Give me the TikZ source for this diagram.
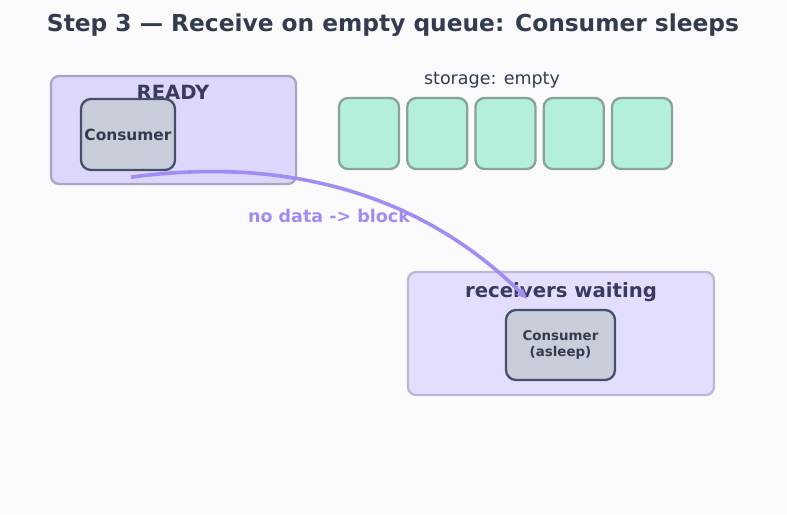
\documentclass[tikz,border=0pt]{standalone}
\usepackage{fontspec}
\setmainfont{DejaVu Sans}
\usepackage{tikz}
\usetikzlibrary{arrows.meta,calc,positioning}

\definecolor{bgcol}{HTML}{FBFBFE}
\definecolor{inkcol}{HTML}{333B4F}
\definecolor{readyfill}{HTML}{DDD6FD}
\definecolor{readyline}{HTML}{ABA4C5}
\definecolor{readyink}{HTML}{383B5E}
\definecolor{procfill}{HTML}{C9CDD9}
\definecolor{procline}{HTML}{475069}
\definecolor{slotfill}{HTML}{B3EFDA}
\definecolor{slotline}{HTML}{8AA29B}
\definecolor{waitfill}{HTML}{E3DEFD}
\definecolor{waitline}{HTML}{BDB8D3}
\definecolor{flowcol}{HTML}{A18CF6}

\tikzset{
  statebox/.style={draw, rounded corners=8pt, line width=2.3pt, inner sep=0pt},
  procbox/.style={draw=procline, fill=procfill, rounded corners=10pt, line width=2.3pt,
    inner sep=0pt, text=inkcol, font=\bfseries, align=center},
  slotbox/.style={draw=slotline, fill=slotfill, rounded corners=9pt, line width=2.3pt,
    inner sep=0pt, minimum width=60pt, minimum height=71pt}
}

\begin{document}
\begin{tikzpicture}[x=1pt,y=-1pt]
\fill [bgcol] (0,0) rectangle (787,514);

\node (title) [text=inkcol, font=\fontsize{23.3}{28}\selectfont\bfseries] at (393,25.5) {Step 3 — Receive on empty queue: Consumer sleeps};

\node (ready) [statebox, draw=readyline, fill=readyfill, minimum width=245pt, minimum height=108pt] at (173.5,130) {};
\node (readylbl) [text=readyink, font=\fontsize{19.6}{23}\selectfont\bfseries] at (173,92) {READY};
\node (cons) [procbox, minimum width=94pt, minimum height=71pt, font=\fontsize{15.4}{18}\selectfont\bfseries] at (128,134.5) {Consumer};

\node (storelbl) [text=inkcol, font=\fontsize{17.5}{21}\selectfont] at (492,80.5) {storage: empty};
\foreach \i/\x in {1/369,2/437.25,3/505.5,4/573.75,5/642}
  \node (slot\i) [slotbox] at (\x,133.5) {};

\node (wait) [statebox, draw=waitline, fill=waitfill, minimum width=306pt, minimum height=123pt] at (561,333.5) {};
\node (waitlbl) [text=readyink, font=\fontsize{19.7}{23}\selectfont\bfseries] at (561,292) {receivers waiting};
\node (sleeper) [procbox, minimum width=109pt, minimum height=70pt, font=\fontsize{13.4}{16}\selectfont\bfseries] at (560.5,345) {Consumer\\(asleep)};

\coordinate (src) at ($(cons.south)+(3,6)$);
\coordinate (tgt) at ($(sleeper.north)+(-33.5,-10)$);
\draw [flowcol, line width=3.6pt, -{Stealth[length=11pt,width=10pt]}] (src) .. controls +(164,-22) and +(-100,-100) .. (tgt);
\node (flowlbl) [text=flowcol, font=\fontsize{17.5}{21}\selectfont\bfseries] at (329,216) {no data -> block};
\end{tikzpicture}
\end{document}
